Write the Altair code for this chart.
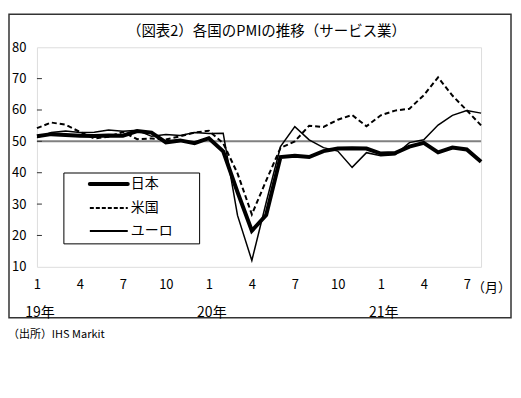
import altair as alt
import pandas as pd

# ---- data (Jan 2019 .. Aug 2021) ----
month_idx = list(range(32))
japan = [51.6, 52.3, 52.0, 51.8, 51.7, 51.9, 51.8, 53.3, 52.8, 49.7, 50.3, 49.4,
         51.0, 46.8, 33.8, 21.5, 26.5, 45.0, 45.4, 45.0, 46.9, 47.7, 47.8, 47.7,
         46.1, 46.3, 48.3, 49.5, 46.5, 48.0, 47.4, 43.5]
us = [54.2, 56.0, 55.3, 53.0, 50.9, 51.5, 53.0, 50.7, 50.9, 50.6, 51.6, 52.8,
      53.4, 49.4, 39.8, 26.7, 37.5, 47.9, 50.0, 55.0, 54.6, 56.9, 58.4, 54.8,
      58.3, 59.8, 60.4, 64.7, 70.4, 64.6, 59.9, 55.1]
euro = [51.2, 52.8, 53.3, 52.8, 52.9, 53.6, 53.2, 53.5, 51.6, 52.2, 51.9, 52.8,
        52.5, 52.6, 26.4, 12.0, 30.5, 48.3, 54.7, 50.5, 48.0, 46.9, 41.7, 46.4,
        45.4, 45.7, 49.6, 50.5, 55.2, 58.3, 59.8, 59.0]
series_names = ["日本", "米国", "ユーロ"]
x_tick_values = [0, 3, 6, 9, 12, 15, 18, 21, 24, 27, 30]
y_tick_values = [10, 20, 30, 40, 50, 60, 70, 80]
year_pos = [0, 12, 24]
year_labels = ["19年", "20年", "21年"]
title_text = "（図表2）各国のPMIの推移（サービス業）"
source_text = "（出所）IHS Markit"

FONT = "Noto Sans CJK JP"

df_j = pd.DataFrame({"i": month_idx, "v": japan})
df_u = pd.DataFrame({"i": month_idx, "v": us})
df_e = pd.DataFrame({"i": month_idx, "v": euro})
df_ticks = pd.DataFrame({"v": [t for t in y_tick_values if 10 < t < 80]})
df_50 = pd.DataFrame({"v": [50]})
df_years = pd.DataFrame({"i": year_pos, "t": year_labels})
one = pd.DataFrame({"a": [0]})

xs = alt.Scale(domain=[0, 31], nice=False, zero=False)
ys = alt.Scale(domain=[10, 80], nice=False, zero=False)

x_axis = alt.Axis(
    values=x_tick_values, labelExpr="(datum.value % 12) + 1",
    grid=False, ticks=False, tickSize=0, domain=False, labelPadding=12,
    labelFontSize=13, labelFont=FONT, labelColor="black", title=None,
    labelFlush=False, labelOverlap=False, labelBound=False)
y_axis = alt.Axis(
    values=y_tick_values, grid=False, ticks=False, tickSize=0, domain=False,
    labelPadding=11, labelFontSize=13, labelFont=FONT, labelColor="black",
    title=None, labelFlush=False, labelOverlap=False, labelBound=False)

x_enc = alt.X("i:Q", scale=xs, axis=x_axis)
y_enc = alt.Y("v:Q", scale=ys, axis=y_axis)

frame = alt.Chart(one).mark_rect(fill="transparent", stroke="#333333", strokeWidth=1.5).encode(
    x=alt.value(-28), x2=alt.value(475), y=alt.value(-33), y2=alt.value(271))

title = alt.Chart(one).mark_text(text=title_text, fontSize=14.5, font=FONT, color="black",
                                 align="center", baseline="middle").encode(
    x=alt.value(230), y=alt.value(-15))

source = alt.Chart(one).mark_text(text=source_text, fontSize=11, font=FONT, color="black",
                                  align="left", baseline="middle").encode(
    x=alt.value(-29), y=alt.value(288))

month_unit = alt.Chart(one).mark_text(text="（月）", fontSize=13, font=FONT, color="black",
                                      align="left", baseline="middle").encode(
    x=alt.value(436), y=alt.value(241))

l_e = alt.Chart(df_e).mark_line(color="black", strokeWidth=1.5).encode(x=x_enc, y=y_enc)
l_u = alt.Chart(df_u).mark_line(color="black", strokeWidth=2, strokeDash=[5, 3]).encode(x=x_enc, y=y_enc)
l_j = alt.Chart(df_j).mark_line(color="black", strokeWidth=4).encode(x=x_enc, y=y_enc)

years = alt.Chart(df_years).mark_text(fontSize=14, font=FONT, color="black",
                                      align="center", baseline="middle", dx=3).encode(
    x=x_enc, y=alt.value(266), text="t:N")

ticks = alt.Chart(df_ticks).mark_rule(color="#333333", strokeWidth=1).encode(
    x=alt.value(0), x2=alt.value(5), y=y_enc)

line50 = alt.Chart(df_50).mark_rule(color="#808080", strokeWidth=2).encode(
    x=alt.value(0), x2=alt.value(445), y=y_enc)

# legend (manual box)
leg_box = alt.Chart(one).mark_rect(fill="white", stroke="black", strokeWidth=1).encode(
    x=alt.value(27), x2=alt.value(163), y=alt.value(126), y2=alt.value(197))
leg_rows = [137, 161, 184]
leg_styles = [dict(strokeWidth=4, strokeCap="round"),
              dict(strokeWidth=2, strokeDash=[4, 2]),
              dict(strokeWidth=2)]
leg_layers = [leg_box]
for name, ry, st in zip(series_names, leg_rows, leg_styles):
    leg_layers.append(alt.Chart(one).mark_rule(color="black", **st).encode(
        x=alt.value(53), x2=alt.value(91), y=alt.value(ry)))
    leg_layers.append(alt.Chart(one).mark_text(text=name, fontSize=14, font=FONT, color="black",
                                               align="left", baseline="middle").encode(
        x=alt.value(94), y=alt.value(ry)))

chart = alt.layer(
    frame, title, source, month_unit, years, line50, ticks, l_e, l_u, l_j, *leg_layers
).properties(
    width=445, height=220,
    autosize=alt.AutoSizeParams(type="none"),
    padding={"left": 29, "top": 39, "right": 32, "bottom": 80},
).configure_view(stroke="#555555", strokeWidth=1.5).configure(background="white")

chart.save("out.html", embed_options={"renderer": "svg", "actions": False})
